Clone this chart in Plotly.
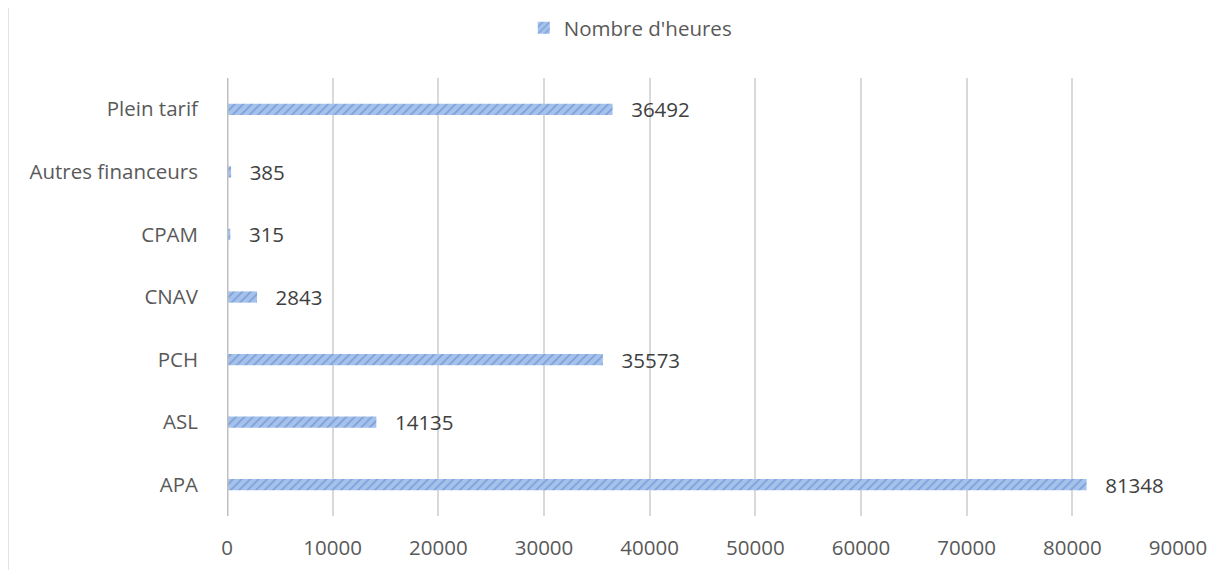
import plotly.graph_objects as go

categories = ["APA", "ASL", "PCH", "CNAV", "CPAM", "Autres financeurs", "Plein tarif"]
heures = [81348, 14135, 35573, 2843, 315, 385, 36492]
series_name = "Nombre d'heures"
x_ticks = [0, 10000, 20000, 30000, 40000, 50000, 60000, 70000, 80000, 90000]

FS = 20.5

fig = go.Figure()
fig.add_trace(go.Bar(
    y=categories, x=heures, orientation="h", name=series_name,
    width=0.18,
    marker=dict(color="#a6c2ea", line=dict(width=0),
                pattern=dict(shape="/", fgcolor="#4f7fcc", size=6, solidity=0.3)),
    text=["\u2002 " + str(v) for v in heures], textposition="outside",
    constraintext="none",
    textfont=dict(size=FS, color="#404040", family="Open Sans"),
    cliponaxis=False,
))

fig.update_layout(
    width=1225, height=570,
    margin=dict(l=219, r=55, t=70, b=62, autoexpand=False),
    paper_bgcolor="white", plot_bgcolor="white",
    font=dict(family="Open Sans", color="#595959", size=FS),
    showlegend=True,
    legend=dict(orientation="h", x=0.508, xanchor="center", xref="container",
                y=0.965, yanchor="middle", yref="container",
                font=dict(size=FS, color="#595959")),
    xaxis=dict(range=[0, 90000], tickvals=x_ticks, tickformat="d", showgrid=True,
               gridcolor="#d9d9d9", gridwidth=1.5, zeroline=False, showline=False, ticks="",
               ticklabelstandoff=17, tickfont=dict(size=FS, color="#595959")),
    yaxis=dict(showgrid=False, zeroline=False, showline=False, ticks="",
               ticklabelstandoff=28, tickfont=dict(size=FS, color="#595959")),
    bargap=0.8,
)
fig.add_shape(type="line", xref="x", yref="paper", x0=0, x1=0, y0=0, y1=1,
              line=dict(color="#bfbfbf", width=3))
fig.add_shape(type="line", xref="paper", yref="paper", x0=-0.2303, x1=-0.2303, y0=-0.2, y1=1.3,
              line=dict(color="#d9d9d9", width=1.5))
fig.write_html("out.html")
